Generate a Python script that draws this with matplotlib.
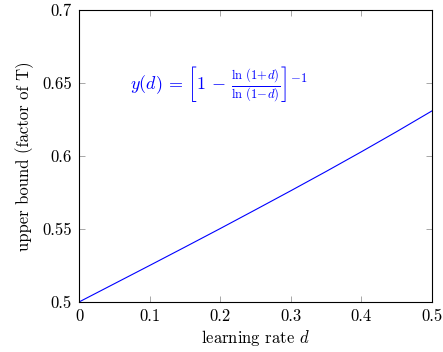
import matplotlib
matplotlib.use("Agg")
import matplotlib.pyplot as plt

plt.rcParams['font.family'] = 'serif'
plt.rcParams['font.serif'] = ['cmr10']
plt.rcParams['mathtext.fontset'] = 'cm'
plt.rcParams['axes.formatter.use_mathtext'] = True

d_values = [0.0, 0.05, 0.1, 0.15, 0.2, 0.25, 0.3, 0.35, 0.4, 0.45, 0.5]
y_values = [0.5, 0.5125, 0.5250, 0.5376, 0.5503, 0.5632, 0.5762, 0.5894, 0.6029, 0.6167, 0.6309]
x_ticks = [0, 0.1, 0.2, 0.3, 0.4, 0.5]
x_ticklabels = ['0', '0.1', '0.2', '0.3', '0.4', '0.5']
y_ticks = [0.5, 0.55, 0.6, 0.65, 0.7]
y_ticklabels = ['0.5', '0.55', '0.6', '0.65', '0.7']

fig = plt.figure(figsize=(4.43, 3.52), dpi=100)
ax = fig.add_axes([79/443, 1 - 302/352, (432-79)/443, (302-10)/352])
ax.plot(d_values, y_values, color='blue', lw=0.8)
ax.set_xlim(0, 0.5)
ax.set_ylim(0.5, 0.7)
ax.set_xticks(x_ticks)
ax.set_xticklabels(x_ticklabels)
ax.set_yticks(y_ticks)
ax.set_yticklabels(y_ticklabels)
ax.tick_params(direction='in', length=4, width=0.6, color='#999999', top=True, right=True,
               labelsize=12, pad=5)
for s in ax.spines.values():
    s.set_linewidth(0.8)
ax.set_xlabel(r'learning rate $d$', fontsize=12, labelpad=3)
ax.set_ylabel('upper bound (factor of T)', fontsize=12, labelpad=6)
ax.text(0.198, 0.649, r'$y(d)\,=\,\left[1\,-\,\frac{\ln\,(1\!+\!d)}{\ln\,(1\!-\!d)}\right]^{-1}$',
        color='blue', fontsize=13, ha='center', va='center')
fig.savefig('out.png', dpi=100)
